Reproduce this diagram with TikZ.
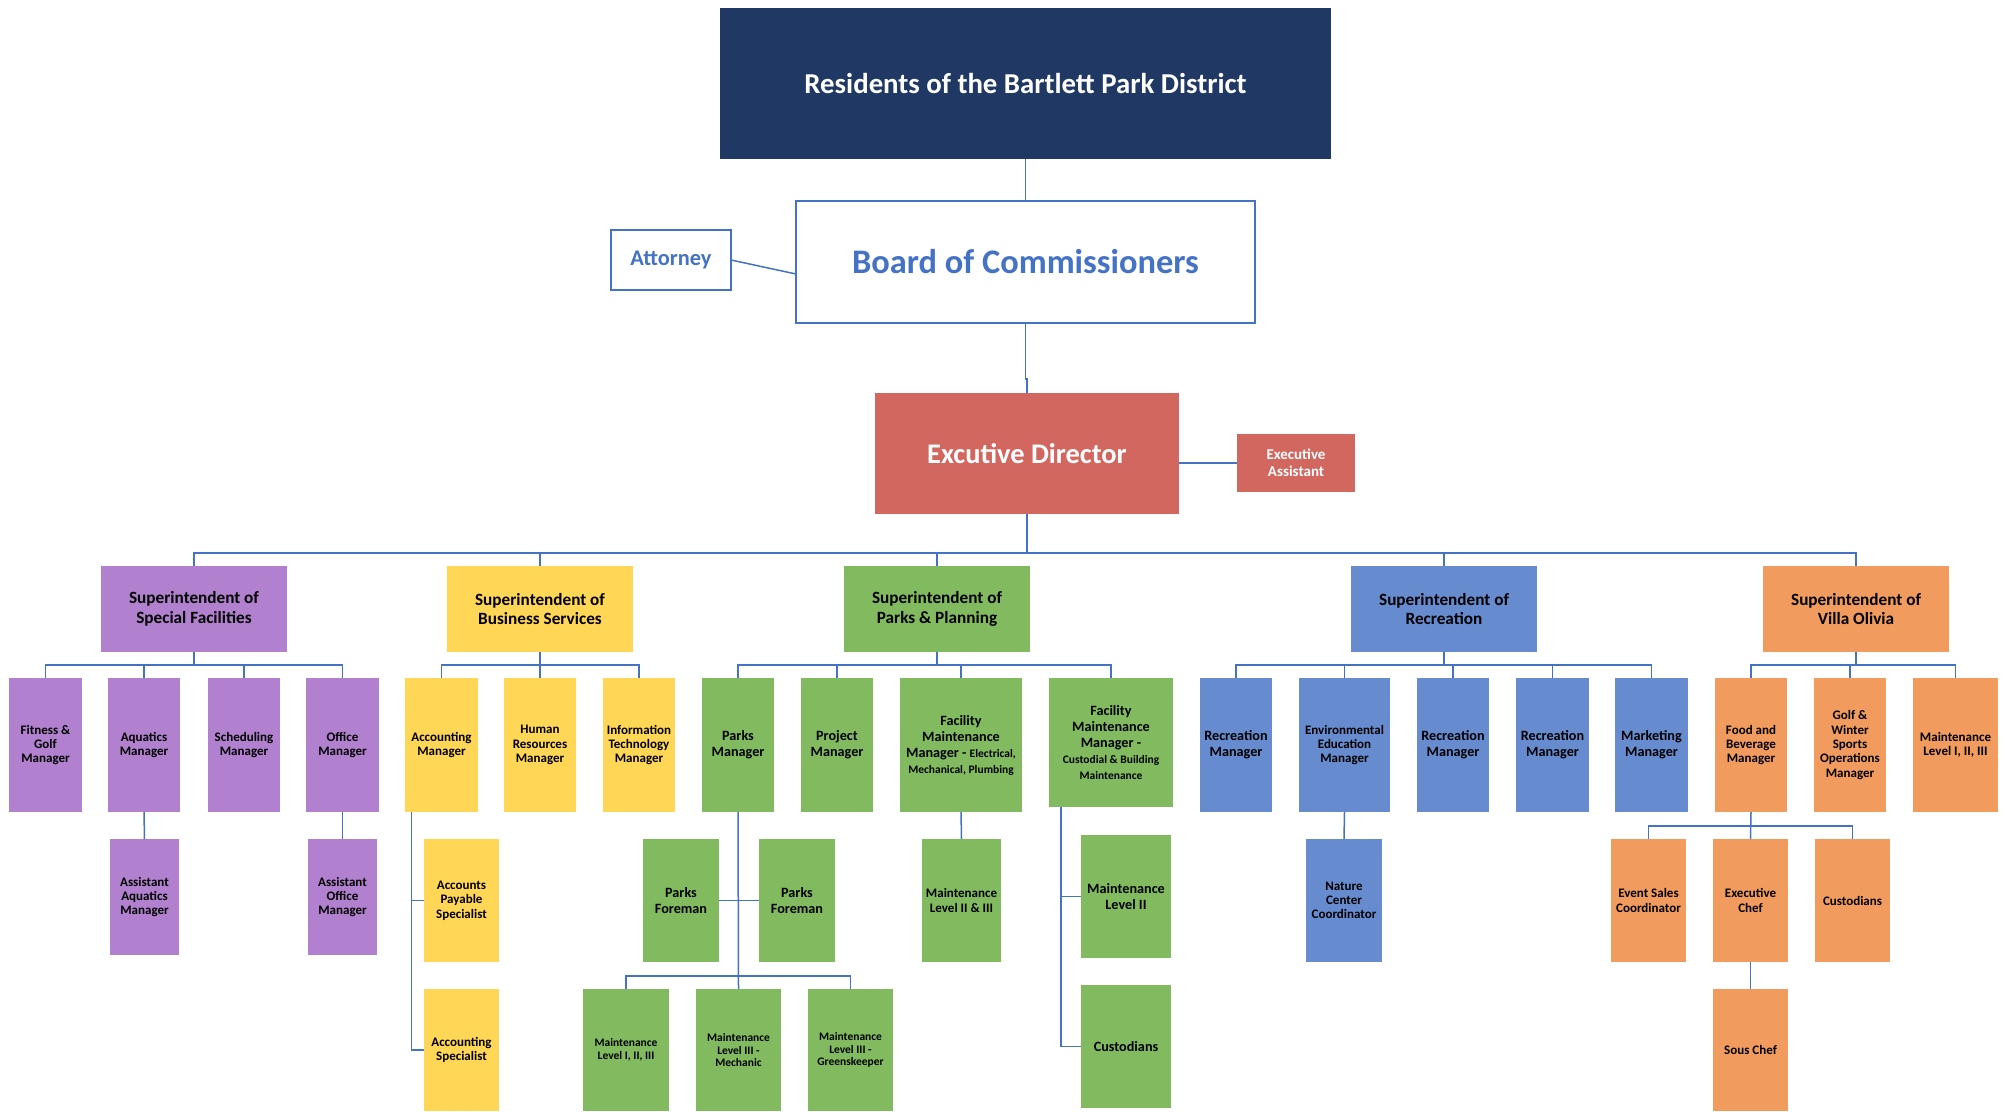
\documentclass[tikz,border=0pt]{standalone}
\usepackage{fontspec}
\setmainfont{Carlito}
\usetikzlibrary{calc}
\definecolor{navy}{HTML}{1F3864}
\definecolor{lineblue}{HTML}{4472C4}
\definecolor{purp}{HTML}{B180CE}
\definecolor{yell}{HTML}{FFD655}
\definecolor{grn}{HTML}{82BB5F}
\definecolor{blu}{HTML}{668CCF}
\definecolor{orng}{HTML}{F19B5E}
\definecolor{redd}{HTML}{D1675F}
% box from corner (x1,y1) to corner (x2,y2): name, style, x1, y1, x2, y2, text
\newcommand\orgbox[7]{\node[#2,minimum width={#5-#3},minimum height={#6-#4}] (#1) at ({(#3+#5)/2},{(#4+#6)/2}) {#7};}
\newcommand\smalltxt[1]{{\fontsize{11.5}{13}\selectfont #1}}
\begin{document}
\begin{tikzpicture}[x=1pt,y=-1pt,
  base/.style={inner sep=0pt,outer sep=0pt,align=center},
  conn/.style={draw=lineblue,line width=1.5pt},
  fsup/.style={font=\bfseries\fontsize{17.2}{19.5}\selectfont},
  fa/.style={font=\bfseries\fontsize{13}{14.3}\selectfont},
  fb/.style={font=\bfseries\fontsize{14.2}{16}\selectfont},
  fc/.style={font=\bfseries\fontsize{11.5}{12.8}\selectfont},
  pu/.style={base,fill=purp},
  ye/.style={base,fill=yell},
  gr/.style={base,fill=grn},
  bl/.style={base,fill=blu},
  or/.style={base,fill=orng}]
\fill[white] (0,0) rectangle (2012,1111);
\useasboundingbox (0,0) rectangle (2012,1111);

% governing levels
\orgbox{res}{base,fill=navy,text=white,font=\bfseries\fontsize{28.8}{32}\selectfont}{720}{8}{1331}{159}{Residents of the Bartlett Park District}
\orgbox{board}{base,draw=lineblue,line width=1.5pt,fill=white,text=lineblue,font=\bfseries\fontsize{34.4}{38}\selectfont}{796}{201}{1255}{323}{Board of Commissioners}
\orgbox{att}{base,draw=lineblue,line width=1.5pt,fill=white,text=lineblue,font=\bfseries\fontsize{22.4}{25}\selectfont}{611}{230}{731}{290}{Attorney}
\orgbox{ed}{base,fill=redd,text=white,font=\bfseries\fontsize{28.4}{32}\selectfont}{875}{393}{1179}{514}{Excutive Director}
\orgbox{ea}{base,fill=redd,text=white,font=\bfseries\fontsize{15}{16.8}\selectfont}{1237}{434}{1355}{492}{Executive\\Assistant}

\draw[conn] (res.south) -- (board.north);
\draw[conn] (board.south) -- ++(0,56) -| (ed.north);
\draw[conn] (att.east) -- ($(board.west)+(0,12)$);
\draw[conn] (ed.east |- ea.west) -- (ea.west);

% superintendents
\orgbox{sf}{pu,fsup}{101}{566}{287}{652}{Superintendent of\\Special Facilities}
\orgbox{bs}{ye,fsup}{447}{566}{633}{652}{Superintendent of\\Business Services}
\orgbox{pp}{gr,fsup}{844}{566}{1030}{652}{Superintendent of\\Parks \& Planning}
\orgbox{rc}{bl,fsup}{1351}{566}{1537}{652}{Superintendent of\\Recreation}
\orgbox{vo}{or,fsup}{1763}{566}{1949}{652}{Superintendent of\\Villa Olivia}

\coordinate (bus) at (0,553);
\draw[conn] (ed.south) -- (ed.south |- bus);
\draw[conn] (sf.north) -- ++(0,-13) -| (vo.north);
\foreach \s in {bs,pp,rc} \draw[conn] (\s.north) -- ++(0,-13);
\foreach \s in {sf,bs,pp,rc,vo} \draw[conn] (\s.south) -- ++(0,13);

% special facilities
\orgbox{fit}{pu,fa}{9}{678}{82}{812}{Fitness \&\\Golf\\Manager}
\orgbox{aq}{pu,fa}{108}{678}{180}{812}{Aquatics\\Manager}
\orgbox{sch}{pu,fa}{208}{678}{280}{812}{Scheduling\\Manager}
\orgbox{off}{pu,fa}{306}{678}{379}{812}{Office\\Manager}
\orgbox{aaq}{pu,fa}{110}{839}{179}{955}{Assistant\\Aquatics\\Manager}
\orgbox{aoff}{pu,fa}{308}{839}{377}{955}{Assistant\\Office\\Manager}
\draw[conn] (fit.north) -- ++(0,-13) -| (off.north);
\foreach \s in {aq,sch} \draw[conn] (\s.north) -- ++(0,-13);
\draw[conn] (aq.south) -- (aaq.north);
\draw[conn] (off.south) -- (aoff.north);

% business services
\orgbox{am}{ye,fa}{405}{678}{478}{812}{Accounting\\Manager}
\orgbox{hr}{ye,fa}{504}{678}{576}{812}{Human\\Resources\\Manager}
\orgbox{it}{ye,fa}{603}{678}{675}{812}{Information\\Technology\\Manager}
\orgbox{ap}{ye,fa}{424}{839}{499}{962}{Accounts\\Payable\\Specialist}
\orgbox{asp}{ye,fa}{424}{989}{499}{1111}{Accounting\\Specialist}
\draw[conn] (am.north) -- ++(0,-13) -| (it.north);
\draw[conn] (hr.north) -- ++(0,-13);
\coordinate (bsv) at (411.6,812);
\draw[conn] (bsv) |- (ap.west);
\draw[conn] (bsv) |- (asp.west);

% parks and planning
\orgbox{pm}{gr,fb}{702}{678}{774}{812}{Parks\\Manager}
\orgbox{prj}{gr,fb}{801}{678}{873}{812}{Project\\Manager}
\orgbox{fme}{gr,fb}{900}{678}{1022}{812}{Facility\\Maintenance\\Manager -\ \smalltxt{Electrical,}\\\smalltxt{Mechanical, Plumbing}}
\orgbox{fmc}{gr,fb}{1049}{678}{1173}{807}{Facility\\Maintenance\\Manager -\\\smalltxt{Custodial \& Building}\\\smalltxt{Maintenance}}
\orgbox{pf1}{gr,fb}{643}{839}{719}{962}{Parks\\Foreman}
\orgbox{pf2}{gr,fb}{759}{839}{835}{962}{Parks\\Foreman}
\orgbox{mi}{gr,fc}{583}{989}{669}{1111}{Maintenance\\Level I, II, III}
\orgbox{mech}{gr,fc}{696}{989}{781}{1111}{Maintenance\\Level III -\\Mechanic}
\orgbox{gk}{gr,fc}{808}{989}{893}{1111}{Maintenance\\Level III -\\Greenskeeper}
\orgbox{m23}{gr,fa}{922}{839}{1001}{962}{Maintenance\\Level II \& III}
\orgbox{ml2}{gr,fb}{1081}{835}{1171}{958}{Maintenance\\Level II}
\orgbox{cup}{gr,fb}{1081}{985}{1171}{1108}{Custodians}
\draw[conn] (pm.north) -- ++(0,-13) -| (fmc.north);
\foreach \s in {prj,fme} \draw[conn] (\s.north) -- ++(0,-13);
\draw[conn] (pm.south) -- (mech.north);
\draw[conn] (pf1.east) -- (pf2.west);
\draw[conn] (mi.north) -- ++(0,-13) -| (gk.north);
\draw[conn] (fme.south) -- (m23.north);
\coordinate (pcv) at (1061,807);
\draw[conn] (pcv) |- (ml2.west);
\draw[conn] (pcv) |- (cup.west);

% recreation
\orgbox{r1}{bl,fb}{1200}{678}{1272}{812}{Recreation\\Manager}
\orgbox{env}{bl,fa}{1299}{678}{1390}{812}{Environmental\\Education\\Manager}
\orgbox{r2}{bl,fb}{1417}{678}{1489}{812}{Recreation\\Manager}
\orgbox{r3}{bl,fb}{1516}{678}{1589}{812}{Recreation\\Manager}
\orgbox{mkt}{bl,fb}{1615}{678}{1688}{812}{Marketing\\Manager}
\orgbox{nat}{bl,fa}{1306}{839}{1382}{962}{Nature\\Center\\Coordinator}
\draw[conn] (r1.north) -- ++(0,-13) -| (mkt.north);
\foreach \s in {env,r2,r3} \draw[conn] (\s.north) -- ++(0,-13);
\draw[conn] (env.south) -- (nat.north);

% villa olivia
\orgbox{fbm}{or,fa}{1715}{678}{1787}{812}{Food and\\Beverage\\Manager}
\orgbox{golf}{or,fa}{1814}{678}{1886}{812}{Golf \&\\Winter\\Sports\\Operations\\Manager}
\orgbox{mv}{or,fa}{1913}{678}{1998}{812}{Maintenance\\Level I, II, III}
\orgbox{evs}{or,fa}{1611}{839}{1686}{962}{Event Sales\\Coordinator}
\orgbox{chef}{or,fa}{1713}{839}{1788}{962}{Executive\\Chef}
\orgbox{cuv}{or,fa}{1815}{839}{1890}{962}{Custodians}
\orgbox{sous}{or,fa}{1713}{989}{1788}{1111}{Sous Chef}
\draw[conn] (fbm.north) -- ++(0,-13) -| (mv.north);
\draw[conn] (golf.north) -- ++(0,-13);
\draw[conn] (fbm.south) -- (chef.north);
\draw[conn] (evs.north) -- ++(0,-13) -| (cuv.north);
\draw[conn] (chef.south) -- (sous.north);
\end{tikzpicture}
\end{document}
